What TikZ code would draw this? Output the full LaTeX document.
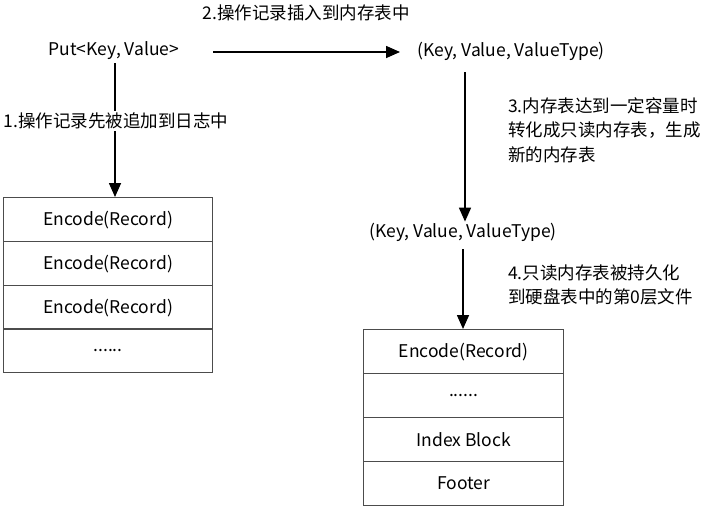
\documentclass[tikz,border=0pt]{standalone}
\usepackage{fontspec}
\setmainfont{Noto Sans CJK SC}
\usetikzlibrary{arrows.meta}
\begin{document}
\begin{tikzpicture}[x=1pt,y=-1pt,
  every node/.style={font=\fontsize{17.5}{24.5}\selectfont, inner sep=1pt},
  flow/.style={draw=black, line width=1.6pt, -{Triangle[width=12pt,length=14pt]}},
  cell/.style={draw=black!70, line width=1.2pt, minimum width=209pt, minimum height=44pt, inner sep=0pt, anchor=north west},
  lbl/.style={align=left, anchor=west}]
\useasboundingbox (0,0) rectangle (709,506);
% top level
\node (put) at (114,51) {Put<Key, Value>};
\node (kv1) at (511,51) {(Key, Value, ValueType)};
\node (kv2) at (463,232) {(Key, Value, ValueType)};
% left box
\node[cell] (l1) at (3,197) {Encode(Record)};
\node[cell] (l2) at (3,241) {Encode(Record)};
\node[cell] (l3) at (3,285) {Encode(Record)};
\node[cell] (l4) at (3,328) {......};
% right box
\node[cell, minimum width=200pt] (r1) at (363,329) {Encode(Record)};
\node[cell, minimum width=200pt] (r2) at (363,373) {......};
\node[cell, minimum width=200pt] (r3) at (363,417) {Index Block};
\node[cell, minimum width=200pt] (r4) at (363,461) {Footer};
% connectors
\coordinate (a1s) at (213,52);
\coordinate (a1e) at (400,52);
\draw[flow] (a1s) -- (a1e);
\node (t2) at (306,13) {2.操作记录插入到内存表中};
\coordinate (p1) at (115,63);
\draw[flow] (p1) -- (p1 |- l1.north);
\node[fill=white, inner sep=2pt] (t1) at (116,121) {1.操作记录先被追加到日志中};
\coordinate (p2) at (465,72);
\draw[flow] (p2) -- (p2 |- kv2.north);
\node[lbl] (t3) at (507,130) {3.内存表达到一定容量时\\转化成只读内存表，生成\\新的内存表};
\coordinate (p3) at (463,249);
\draw[flow] (p3) -- (p3 |- r1.north);
\node[lbl] (t4) at (507,285) {4.只读内存表被持久化\\到硬盘表中的第0层文件};
\end{tikzpicture}
\end{document}
